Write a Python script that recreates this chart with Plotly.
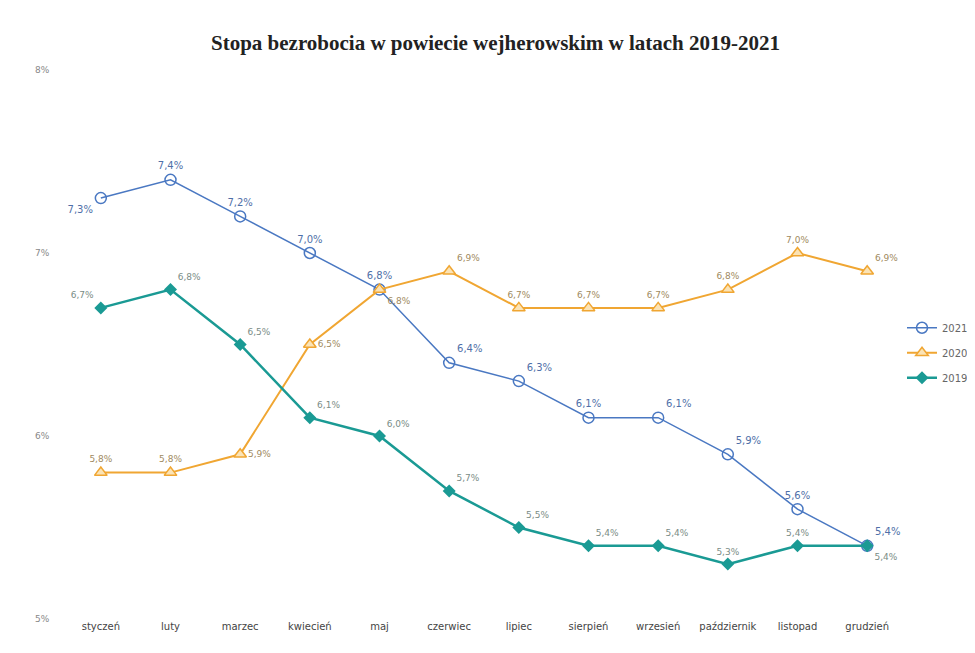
import plotly.graph_objects as go

months = ["styczeń", "luty", "marzec", "kwiecień", "maj", "czerwiec", "lipiec",
          "sierpień", "wrzesień", "październik", "listopad", "grudzień"]
y2021 = [7.3, 7.4, 7.2, 7.0, 6.8, 6.4, 6.3, 6.1, 6.1, 5.9, 5.6, 5.4]
y2020 = [5.8, 5.8, 5.9, 6.5, 6.8, 6.9, 6.7, 6.7, 6.7, 6.8, 7.0, 6.9]
y2019 = [6.7, 6.8, 6.5, 6.1, 6.0, 5.7, 5.5, 5.4, 5.4, 5.3, 5.4, 5.4]
y_ticks = [5, 6, 7, 8]

pos2021 = ["bottom left", "top center", "top center", "top center", "top center", "top right",
           "top right", "top center", "top right", "top right", "top center", "top right"]
pos2020 = ["top center", "top center", "middle right", "middle right", "bottom right", "top right",
           "top center", "top center", "top center", "top center", "top center", "top right"]
pos2019 = ["top left", "top right", "top right", "top right", "top right", "top right",
           "top right", "top right", "top right", "top center", "top center", "bottom right"]

blue = "#4A78C2"
orange = "#F0A632"
teal = "#1A9A94"

fig = go.Figure()
fig.add_trace(go.Scatter(
    x=months, y=y2021, name="2021", legendgroup="g1", mode="lines+markers+text",
    line=dict(color=blue, width=1.5),
    marker=dict(symbol="circle-open", size=11, color=blue, line=dict(width=1.5)),
    texttemplate="%{y:.1f}%", textposition=pos2021,
    textfont=dict(family="DejaVu Sans", size=10, color="#4F6FA8"),
))
fig.add_trace(go.Scatter(
    x=months, y=y2020, name="2020", legendgroup="g2", mode="lines+markers+text",
    line=dict(color=orange, width=2),
    marker=dict(symbol="triangle-up", size=11, color="#FBE3B5", line=dict(color=orange, width=1.5)),
    texttemplate="%{y:.1f}%", textposition=pos2020,
    textfont=dict(family="DejaVu Sans", size=9, color="#A08A60"),
))
fig.add_trace(go.Scatter(
    x=months, y=y2019, name="2019", legendgroup="g3", mode="lines+markers+text",
    line=dict(color=teal, width=2.5),
    marker=dict(symbol="diamond", size=10, color=teal),
    texttemplate="%{y:.1f}%", textposition=pos2019,
    textfont=dict(family="DejaVu Sans", size=9, color="#7A8C86"),
))

fig.update_layout(
    width=975, height=653,
    paper_bgcolor="white", plot_bgcolor="white",
    separators=", ",
    title=dict(text="<b>Stopa bezrobocia w powiecie wejherowskim w latach 2019-2021</b>",
               x=0.5, xanchor="center", y=0.947, yanchor="middle",
               font=dict(family="Liberation Serif", size=21, color="#222222")),
    margin=dict(l=58, r=81, t=62, b=42, autoexpand=False),
    showlegend=True,
    legend=dict(x=1.0, y=0.485, xanchor="left", yanchor="middle",
                font=dict(family="DejaVu Sans", size=10, color="#666666"),
                bgcolor="rgba(0,0,0,0)", itemwidth=30,
                traceorder="grouped", tracegroupgap=6),
    xaxis=dict(type="category", range=[-0.5, 11.5], showgrid=False, zeroline=False,
               showline=False, automargin=False,
               ticks="", tickfont=dict(family="DejaVu Sans", size=10, color="#444444")),
    yaxis=dict(range=[5, 8], tickvals=y_ticks, ticktext=[f"{v}%" for v in y_ticks],
               showgrid=False, zeroline=False, showline=False, automargin=False,
               ticks="outside", ticklen=14, tickcolor="rgba(0,0,0,0)",
               tickfont=dict(family="DejaVu Sans", size=9, color="#888888")),
)

fig.write_html("out.html")
